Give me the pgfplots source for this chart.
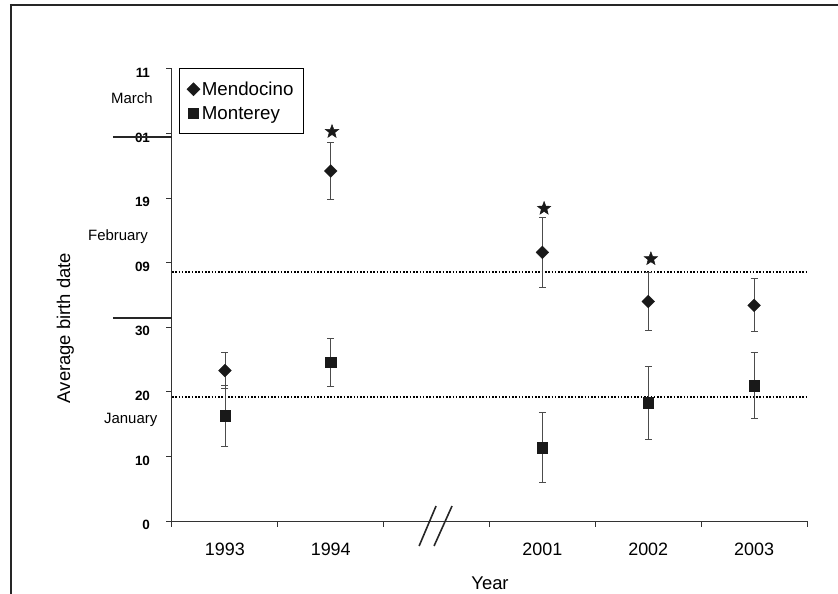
\documentclass[border=0pt]{standalone}
\usepackage{pgfplots}
\pgfplotsset{compat=1.18}
\usepackage{fontspec}
\setmainfont{Liberation Sans}
\usetikzlibrary{plotmarks}
\pgfdeclareplotmark{fstar}{%
  \pgfpathmoveto{\pgfpointpolar{90}{\pgfplotmarksize}}%
  \pgfpathlineto{\pgfpointpolar{126}{0.42\pgfplotmarksize}}%
  \pgfpathlineto{\pgfpointpolar{162}{\pgfplotmarksize}}%
  \pgfpathlineto{\pgfpointpolar{198}{0.42\pgfplotmarksize}}%
  \pgfpathlineto{\pgfpointpolar{234}{\pgfplotmarksize}}%
  \pgfpathlineto{\pgfpointpolar{270}{0.42\pgfplotmarksize}}%
  \pgfpathlineto{\pgfpointpolar{306}{\pgfplotmarksize}}%
  \pgfpathlineto{\pgfpointpolar{342}{0.42\pgfplotmarksize}}%
  \pgfpathlineto{\pgfpointpolar{18}{\pgfplotmarksize}}%
  \pgfpathlineto{\pgfpointpolar{54}{0.42\pgfplotmarksize}}%
  \pgfpathclose
  \pgfusepathqfillstroke}
\begin{document}
\begin{tikzpicture}
\path[use as bounding box] (-172bp,-73bp) rectangle (666bp,521bp);
\draw[line width=2bp, black!85] (-162bp,516bp) -- (667bp,516bp);
\draw[line width=2bp, black!85] (-161.3bp,517bp) -- (-161.3bp,-74bp);
\begin{axis}[
  scale only axis, width=635bp, height=452bp,
  xmin=0, xmax=6, ymin=0, ymax=70,
  clip=false,
  axis x line=bottom, axis y line=left,
  axis line style={-, line width=1bp, black!80},
  every tick/.style={line width=1bp, black!80},
  major tick length=5.5bp, tick align=outside,
  xtick={0,...,6}, x tick label as interval,
  xticklabels={1993,1994,{},2001,2002,2003},
  xticklabel style={font=\fontsize{18}{20}\selectfont, yshift=-13bp},
  ytick={0,10,...,70},
  yticklabels={0,10,20,30,09,19,01,11},
  yticklabel style={font=\bfseries\fontsize{13.5}{15}\selectfont, xshift=-13bp, yshift=-4bp},
  xlabel={Year},
  xlabel style={font=\fontsize{18.5}{20}\selectfont, at={(axis description cs:0.5008,-0.137)}, anchor=center},
  ylabel={Average birth date},
  ylabel style={font=\fontsize{18.5}{20}\selectfont, at={(axis description cs:-0.168,0.427)}, anchor=center, rotate=0},
  legend style={at={(axis description cs:0.0106,1.0015)}, anchor=north west, draw=black, line width=0.8bp, font=\fontsize{18.8}{20}\selectfont, cells={anchor=west}, inner xsep=8bp, inner ysep=11bp, row sep=5.7bp},
  legend image code/.code={\draw[mark repeat=2,mark phase=2,#1] plot coordinates {(0cm,0cm)(0.2cm,0cm)(0.4cm,0cm)};},
]
% dotted reference lines
\addplot[forget plot, black, line width=1.8bp, dash pattern=on 1.6bp off 1.7bp] coordinates {(0,38.6) (6,38.6)};
\addplot[forget plot, black, line width=1.8bp, dash pattern=on 1.6bp off 1.7bp] coordinates {(0,19.25) (6,19.25)};
% Mendocino
\addplot[only marks, mark=square*, mark size=4.5bp, mark options={rotate=45, fill=black!90, draw=black!90}, black!90,
  error bars/.cd, y dir=both, y explicit,
  error bar style={line width=0.8bp, black!70},
  error mark options={rotate=90, mark size=3.5bp, line width=0.8bp, black!70}]
  coordinates {
  (0.5,23.3) +- (0,2.8)
  (1.5,54.2) +- (0,4.45)
  (3.5,41.6) +- (0,5.45)
  (4.5,34.0) +- (0,4.45)
  (5.5,33.4) +- (0,4.1)
  };
\addlegendentry{Mendocino}
% Monterey
\addplot[only marks, mark=square*, mark size=5.2bp, mark options={fill=black!90, draw=black!90}, black!90,
  error bars/.cd, y dir=both, y explicit,
  error bar style={line width=0.8bp, black!70},
  error mark options={rotate=90, mark size=3.5bp, line width=0.8bp, black!70}]
  coordinates {
  (0.5,16.3) +- (0,4.7)
  (1.5,24.6) +- (0,3.7)
  (3.5,11.35) +- (0,5.4)
  (4.5,18.3) +- (0,5.6)
  (5.5,20.95) +- (0,5.1)
  };
\addlegendentry{Monterey}
% significance stars
\addplot[forget plot, only marks, mark=fstar, mark size=7bp, mark options={fill=black!90, draw=black!90, line width=0.5bp}]
  coordinates {(1.512,60.3) (3.516,48.4) (4.525,40.6)};
% month boundary lines
\draw[line width=2bp, black!85] (axis cs:-0.558,59.4) -- (axis cs:0,59.4);
\draw[line width=2bp, black!85] (axis cs:-0.558,31.5) -- (axis cs:0,31.5);
% month names
\node[font=\fontsize{15}{16}\selectfont] at (axis cs:-0.378,65.5) {March};
\node[font=\fontsize{15}{16}\selectfont] at (axis cs:-0.51,44) {February};
\node[font=\fontsize{15}{16}\selectfont] at (axis cs:-0.39,15.6) {January};
% axis break marks
\draw[line width=1.6bp, black!85] (axis cs:2.335,-3.87) -- (axis cs:2.495,2.32);
\draw[line width=1.6bp, black!85] (axis cs:2.476,-3.87) -- (axis cs:2.646,2.32);
\end{axis}
\end{tikzpicture}
\end{document}
